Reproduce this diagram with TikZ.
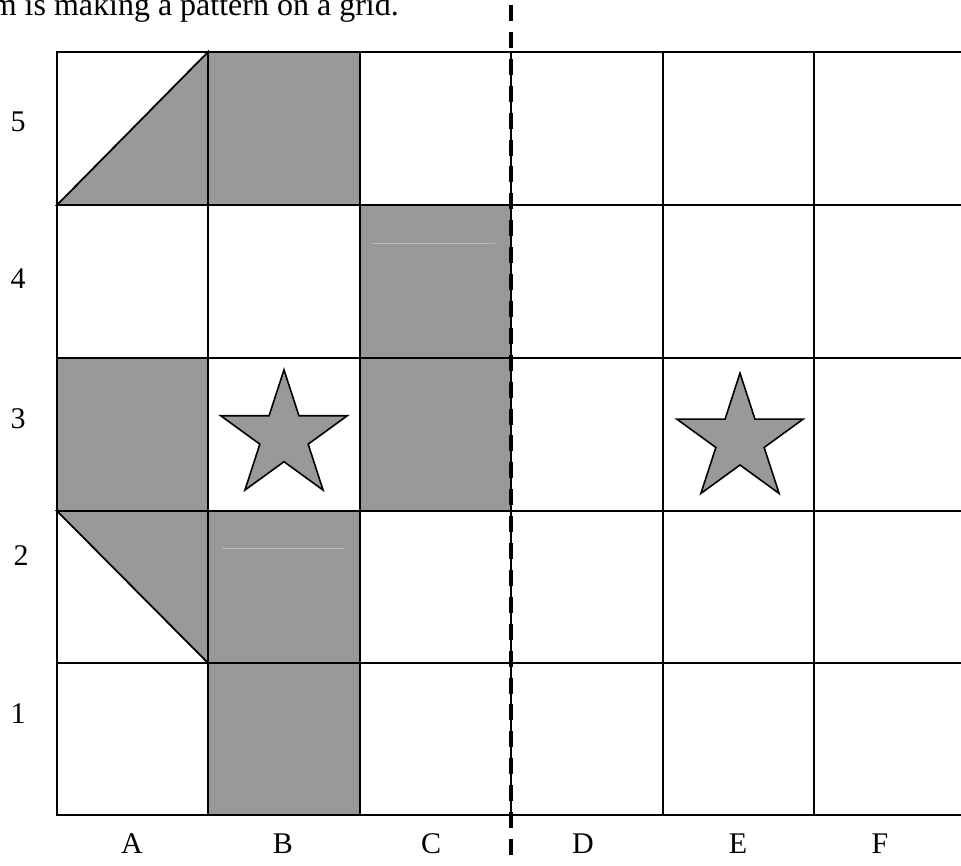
\documentclass[tikz,border=0pt]{standalone}
\usepackage{fontspec}
\setmainfont{Liberation Serif}
\usetikzlibrary{shapes.geometric}
\definecolor{cellgray}{RGB}{153,153,153}
\definecolor{ink}{RGB}{0,0,0}
\definecolor{streak}{RGB}{185,185,185}

\begin{document}
\begin{tikzpicture}[x=1pt,y=-1pt,font=\fontsize{30}{36}\selectfont,gridline/.style={draw=ink,line width=2.4pt,line cap=rect},halfcell/.style={fill=cellgray,draw=ink,line width=1.8pt,line join=miter},starshape/.style={star,star points=5,star point ratio=2.618,fill=cellgray,draw=ink,line width=1.6pt,minimum size=133pt,inner sep=0pt},fold/.style={draw=ink,line width=4pt,dash pattern=on 16pt off 10.9pt}]
\useasboundingbox (0,0) rectangle (961,865);
\node[anchor=base east,inner sep=0pt,font=\fontsize{32}{38}\selectfont] (intro) at (399,15) {m is making a pattern on a grid.};
\foreach \cx/\cy in {208/52,360/205,57/358,360/358,208/511,208/663}
  \fill[cellgray] (\cx,\cy) rectangle ++(152,153);
\draw[halfcell] (57,205) -- (208,52) -- (208,205) -- cycle;
\draw[halfcell] (57,511) -- (208,511) -- (208,663) -- cycle;
\draw[streak,line width=0.8pt] (372,243) -- (495,243);
\draw[streak,line width=0.8pt] (222,548) -- (345,548);
\foreach \x in {57,208,360,511,663,814}
  \draw[gridline] (\x,52) -- (\x,815);
\foreach \y in {52,205,358,511,663,815}
  \draw[gridline] (57,\y) -- (970,\y);
\draw[fold] (511,5) -- (511,865);
\node[starshape] (starB) at (284,436.3) {};
\node[starshape] (starE) at (740,439.6) {};
\foreach \lab/\x in {A/132,B/283,C/431,D/583,E/738,F/880}
  \node[anchor=base,inner sep=0pt] (col\lab) at (\x,853) {\lab};
\foreach \lab/\x/\y in {5/18/131,4/18/288,3/18/428,2/21/565,1/18/723}
  \node[anchor=base,inner sep=0pt] (row\lab) at (\x,\y) {\lab};
\end{tikzpicture}
\end{document}
